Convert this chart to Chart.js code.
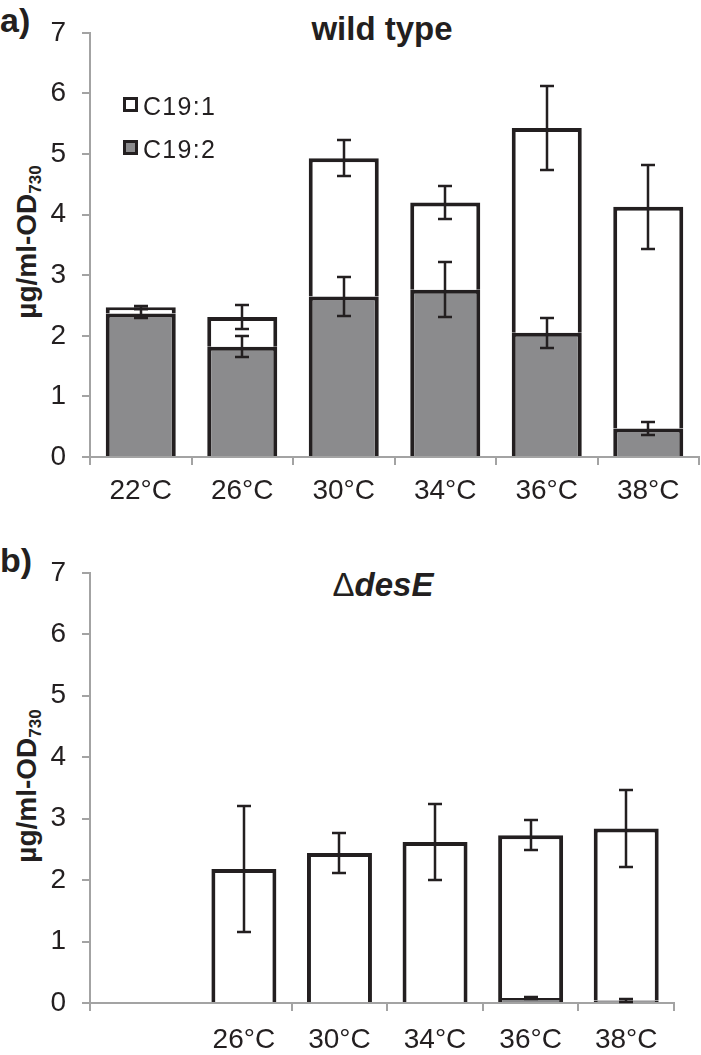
<!DOCTYPE html>
<html>
<head>
<meta charset="utf-8">
<script src="https://cdn.jsdelivr.net/npm/chart.js@4.4.1/dist/chart.umd.min.js"></script>
<style>
body { margin: 0; background: #fff; }
#page { position: relative; width: 701px; height: 1055px; overflow: hidden; font-family: "Liberation Sans", Arial, sans-serif; color: #231f20; }
canvas { position: absolute; left: 0; }
.tag { position: absolute; left: 0; font-size: 34px; font-weight: bold; line-height: 1; }
.ttl { position: absolute; font-size: 33px; font-weight: bold; line-height: 1; white-space: nowrap; transform: translateX(-50%); }
.ylab { position: absolute; font-size: 28px; font-weight: bold; line-height: 1; white-space: nowrap; transform: translate(-50%, -50%) rotate(-90deg); }
.ylab sub { font-size: 17px; vertical-align: -5px; line-height: 0; }
.sw { position: absolute; left: 123px; width: 15px; height: 15px; box-sizing: border-box; border: 3px solid #231f20; }
.lt { position: absolute; left: 143px; font-size: 25px; letter-spacing: 1.3px; line-height: 1; }
</style>
</head>
<body>
<div id="page">
  <div class="tag" style="top:3px">a)</div>
  <div class="ttl" style="left:382px;top:12px">wild type</div>
  <div class="ylab" style="left:27px;top:242px">µg/ml-OD<sub>730</sub></div>
  <canvas id="chartA" width="701" height="530" style="top:0"></canvas>
  <div class="sw" style="top:97px;background:#fff"></div>
  <div class="lt" style="top:94px">C19:1</div>
  <div class="sw" style="top:140px;background:#8b8b8d"></div>
  <div class="lt" style="top:137px">C19:2</div>

  <div class="tag" style="top:543px">b)</div>
  <div class="ttl" style="left:383px;top:568px"><span style="font-weight:normal">&Delta;</span><i>desE</i></div>
  <div class="ylab" style="left:27px;top:786px">µg/ml-OD<sub>730</sub></div>
  <canvas id="chartB" width="701" height="515" style="top:540px"></canvas>
</div>
<script>
// values (µg/ml-OD730)
var catsA = ['22°C', '26°C', '30°C', '34°C', '36°C', '38°C'];
var c192A = [2.37, 1.82, 2.65, 2.76, 2.05, 0.47];
var c191A = [0.10, 0.49, 2.28, 1.44, 3.38, 3.66];
var err192A = [0.07, 0.17, 0.32, 0.45, 0.25, 0.11];
var errTotA = [0.02, 0.20, 0.30, 0.27, 0.70, 0.69];

var catsB = ['', '26°C', '30°C', '34°C', '36°C', '38°C'];
var c192B = [null, 0, 0, 0, 0.08, 0.04];
var c191B = [null, 2.18, 2.44, 2.62, 2.65, 2.80];
var err192B = [null, 0, 0, 0, 0.02, 0.02];
var errTotB = [null, 1.02, 0.32, 0.62, 0.24, 0.62];

var yTicks = [0, 1, 2, 3, 4, 5, 6, 7];

var INK = '#231f20';
var GRAY = '#8b8b8d';
var AXIS = '#a3a3a3';
var FONT = '"Liberation Sans", Arial, sans-serif';

// error bars at the top of each stacked segment
var errorBars = {
    id: 'errorBars',
    afterDatasetsDraw: function (chart) {
        var ctx = chart.ctx, y = chart.scales.y, sets = chart.data.datasets;
        ctx.save();
        ctx.strokeStyle = INK;
        ctx.lineWidth = 2.5;
        sets.forEach(function (ds, i) {
            chart.getDatasetMeta(i).data.forEach(function (bar, j) {
                var e = ds.errors[j];
                if (e == null || ds.data[j] == null || (e === 0 && ds.data[j] === 0)) return;
                var top = 0;
                for (var k = 0; k <= i; k++) top += sets[k].data[j] || 0;
                var y1 = Math.round(y.getPixelForValue(top + e)), y2 = Math.round(y.getPixelForValue(top - e));
                var x = Math.round(bar.x);
                ctx.beginPath();
                ctx.moveTo(x, y1); ctx.lineTo(x, y2);
                ctx.moveTo(x - 7, y1); ctx.lineTo(x + 7, y1);
                ctx.moveTo(x - 7, y2); ctx.lineTo(x + 7, y2);
                ctx.stroke();
            });
        });
        ctx.restore();
    }
};

// small tick below the axis where the y axis meets it
var cornerTick = {
    id: 'cornerTick',
    afterDraw: function (chart) {
        var a = chart.chartArea, ctx = chart.ctx;
        ctx.save();
        ctx.strokeStyle = AXIS;
        ctx.lineWidth = 2;
        ctx.beginPath();
        ctx.moveTo(a.left, a.bottom);
        ctx.lineTo(a.left, a.bottom + 8);
        ctx.stroke();
        ctx.restore();
    }
};

function makeChart(id, cats, c191, c192, err191, err192, o) {
    return new Chart(document.getElementById(id), {
        type: 'bar',
        data: {
            labels: cats,
            datasets: [{
                label: 'C19:2',
                data: c192,
                errors: err192,
                backgroundColor: GRAY,
                borderColor: INK,
                borderWidth: 4,
                borderSkipped: 'bottom',
                barPercentage: o.barPct,
                categoryPercentage: 1
            }, {
                label: 'C19:1',
                data: c191,
                errors: err191,
                backgroundColor: '#ffffff',
                borderColor: INK,
                borderWidth: 4,
                borderSkipped: 'bottom',
                barPercentage: o.barPct,
                categoryPercentage: 1
            }]
        },
        options: {
            responsive: false,
            animation: false,
            layout: { padding: { top: o.top, right: o.right, left: 0, bottom: 0 } },
            plugins: { legend: { display: false }, tooltip: { enabled: false } },
            scales: {
                x: {
                    stacked: true,
                    afterFit: function (s) { s.height = o.xh; },
                    afterBuildTicks: o.xHack,
                    grid: {
                        drawOnChartArea: false,
                        tickLength: 8,
                        lineWidth: 2,
                        color: o.gridColor || AXIS
                    },
                    border: { color: AXIS, width: 2 },
                    ticks: { color: INK, font: { family: FONT, size: 28 }, padding: o.xpad, maxRotation: 0, autoSkip: false }
                },
                y: {
                    stacked: true,
                    min: 0,
                    max: 7,
                    afterFit: function (s) { s.width = 90; },
                    afterBuildTicks: function (s) { s.ticks = yTicks.map(function (v) { return { value: v }; }); },
                    grid: { drawOnChartArea: false, tickLength: 8, lineWidth: 2, color: AXIS },
                    border: { color: AXIS, width: 2 },
                    ticks: { color: INK, font: { family: FONT, size: 28 }, padding: 16 }
                }
            }
        },
        plugins: o.plugins
    });
}

makeChart('chartA', catsA, c191A, c192A, errTotA, err192A, {
    barPct: 0.69, top: 27, right: 2, xh: 73, xpad: 9,
    plugins: [errorBars]
});

makeChart('chartB', catsB, c191B, c192B, errTotB, err192B, {
    barPct: 0.68, top: 30, right: 27, xh: 52, xpad: 12,
    // the first (empty) category sits a little right of the y axis
    xHack: function (s) { s._startValue = -0.61; s._valueRange = 6.11; },
    gridColor: function (c) { return c.index < 2 ? 'rgba(0,0,0,0)' : AXIS; },
    plugins: [errorBars, cornerTick]
});
</script>
</body>
</html>
